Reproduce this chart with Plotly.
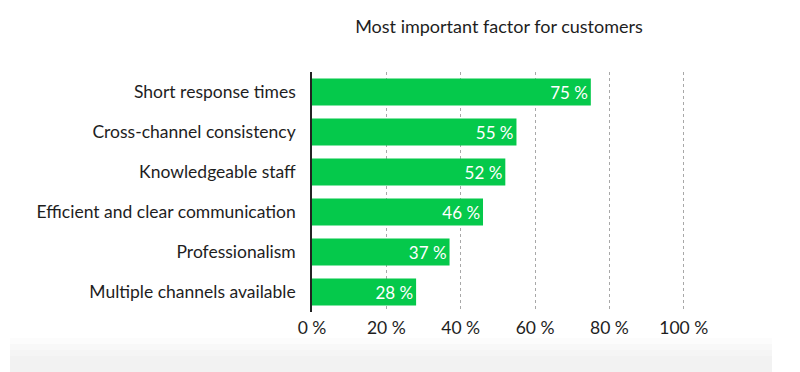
import plotly.graph_objects as go

categories = [
    "Short response times",
    "Cross-channel consistency",
    "Knowledgeable staff",
    "Efficient and clear communication",
    "Professionalism",
    "Multiple channels available",
]
values = [75, 55, 52, 46, 37, 28]
tick_vals = [0, 20, 40, 60, 80, 100]
tick_text = ["0 %", "20 %", "40 %", "60 %", "80 %", "100 %"]
title_text = "Most important factor for customers"

FONT = "Lato, 'Noto Sans', sans-serif"
GREEN = "#05c94b"
TXT = "#1e1e1e"

# page has an 8px body margin, so figure coordinates = page coordinates - 8
L, T, W, H = 304, 64, 374, 240

fig = go.Figure(
    go.Bar(
        x=values,
        y=categories,
        orientation="h",
        marker=dict(color=GREEN, line=dict(width=0)),
        width=0.68,
        text=[f"{v} %" for v in values],
        textposition="inside",
        insidetextanchor="end",
        textfont=dict(color="white", size=17, family=FONT),
        hoverinfo="skip",
    )
)

# soft grey band at the bottom of the image
band_colors = ["#fcfcfc", "#f8f8f8", "#f5f5f5", "#f2f2f2"]
band_tops = [330, 336, 342, 348]
for col, top in zip(band_colors, band_tops):
    fig.add_shape(
        type="rect", xref="paper", yref="paper",
        x0=(2 - L) / W, x1=(764 - L) / W,
        y0=-(top - (T + H)) / H, y1=-(372 - (T + H)) / H,
        fillcolor=col, line=dict(width=0), layer="below",
    )

fig.update_layout(
    width=800,
    height=372,
    margin=dict(l=L, r=800 - L - W, t=T, b=372 - T - H),
    paper_bgcolor="white",
    plot_bgcolor="white",
    showlegend=False,
    font=dict(family=FONT, color=TXT, size=17),
    title=dict(
        text=title_text,
        x=0.5, xref="paper", xanchor="center",
        y=1 - 19 / 372, yref="container", yanchor="middle",
        font=dict(size=18, color=TXT, family=FONT),
    ),
    xaxis=dict(
        range=[0, 100.6],
        tickvals=tick_vals,
        ticktext=tick_text,
        showgrid=True,
        gridcolor="#a8a8a8",
        griddash="dot",
        gridwidth=1.2,
        zeroline=False,
        showline=False,
        ticks="",
        ticklabelstandoff=3,
        tickfont=dict(size=17.5, color=TXT),
        fixedrange=True,
    ),
    yaxis=dict(
        autorange="reversed",
        showline=True,
        linecolor="#222222",
        linewidth=1.5,
        showgrid=False,
        ticks="",
        ticklabelstandoff=11,
        tickfont=dict(size=17.5, color=TXT),
        fixedrange=True,
    ),
)

fig.write_html("out.html")
